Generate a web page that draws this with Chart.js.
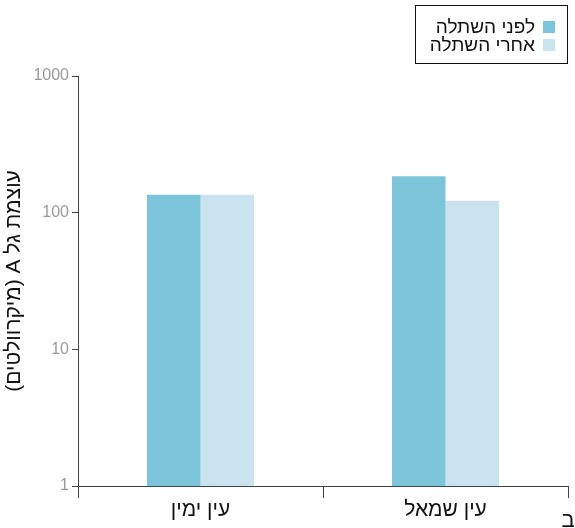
<!DOCTYPE html>
<html lang="he">
<head>
<meta charset="utf-8">
<script src="https://cdn.jsdelivr.net/npm/chart.js@4"></script>
<style>
  html, body { margin: 0; padding: 0; background: #fff; }
  #wrap { width: 575px; height: 528px; position: relative; }
  canvas { direction: rtl; }
</style>
</head>
<body>
<div id="wrap"><canvas id="c" width="575" height="528"></canvas></div>
<script>
const categories = ['עין ימין', 'עין שמאל'];
const seriesNames = ['לפני השתלה', 'אחרי השתלה'];
const beforeValues = [135, 185];
const afterValues = [135, 122];
const yTickValues = [1, 10, 100, 1000];
const yTitle = 'עוצמת גל A (מיקרוולטים)';
const panelLetter = 'ב';

const FONT = '"Liberation Sans", Arial, "DejaVu Sans", sans-serif';
const colors = ['#7bc4da', '#c9e4ef'];

// Boxed legend stacked in the top-right corner, plus the panel letter.
const extras = {
  id: 'extras',
  afterDraw(chart) {
    const ctx = chart.ctx;
    ctx.save();
    ctx.direction = 'rtl';
    // legend frame
    ctx.strokeStyle = '#111';
    ctx.lineWidth = 1;
    ctx.strokeRect(415.5, 5.5, 152, 58);
    ctx.font = '19px ' + FONT;
    ctx.textAlign = 'right';
    ctx.textBaseline = 'middle';
    chart.data.datasets.forEach((ds, i) => {
      const y = 27 + i * 18;
      ctx.fillStyle = ds.backgroundColor;
      ctx.fillRect(543, y - 6, 12, 12);
      ctx.fillStyle = '#111';
      ctx.fillText(ds.label, 535, y + 1);
    });
    // panel letter
    ctx.font = '22px ' + FONT;
    ctx.textAlign = 'center';
    ctx.textBaseline = 'alphabetic';
    ctx.fillStyle = '#111';
    ctx.fillText(panelLetter, 568, 527);
    ctx.restore();
  }
};

new Chart(document.getElementById('c'), {
  type: 'bar',
  data: {
    labels: categories,
    datasets: [
      { label: seriesNames[0], data: beforeValues, backgroundColor: colors[0] },
      { label: seriesNames[1], data: afterValues, backgroundColor: colors[1] }
    ]
  },
  options: {
    responsive: false,
    animation: false,
    devicePixelRatio: 1,
    layout: { padding: { top: 76, right: 7, left: 0, bottom: 0 } },
    categoryPercentage: 0.437,
    barPercentage: 1.0,
    plugins: {
      legend: { display: false },
      tooltip: { enabled: false }
    },
    scales: {
      x: {
        offset: true,
        grid: {
          offset: true,
          drawOnChartArea: false,
          drawTicks: true,
          tickLength: 12,
          color: '#444',
          tickColor: '#444'
        },
        border: { color: '#444', width: 1 },
        ticks: {
          color: '#111',
          font: { family: FONT, size: 21 },
          padding: 0
        },
        afterFit(scale) { scale.height = 42; }
      },
      y: {
        type: 'logarithmic',
        min: 1,
        max: 1000,
        afterBuildTicks(scale) {
          scale.ticks = yTickValues.map(v => ({ value: v }));
        },
        grid: {
          drawOnChartArea: false,
          drawTicks: true,
          tickLength: 6,
          tickColor: '#444'
        },
        border: { color: '#444', width: 1 },
        ticks: {
          color: '#9a9a9a',
          font: { family: FONT, size: 16 },
          padding: 3,
          callback: v => String(v)
        },
        title: {
          display: true,
          text: yTitle,
          color: '#111',
          font: { family: FONT, size: 21 },
          padding: { top: 2, bottom: 0 }
        },
        afterFit(scale) { scale.width = 78; }
      }
    }
  },
  plugins: [extras]
});
</script>
</body>
</html>
